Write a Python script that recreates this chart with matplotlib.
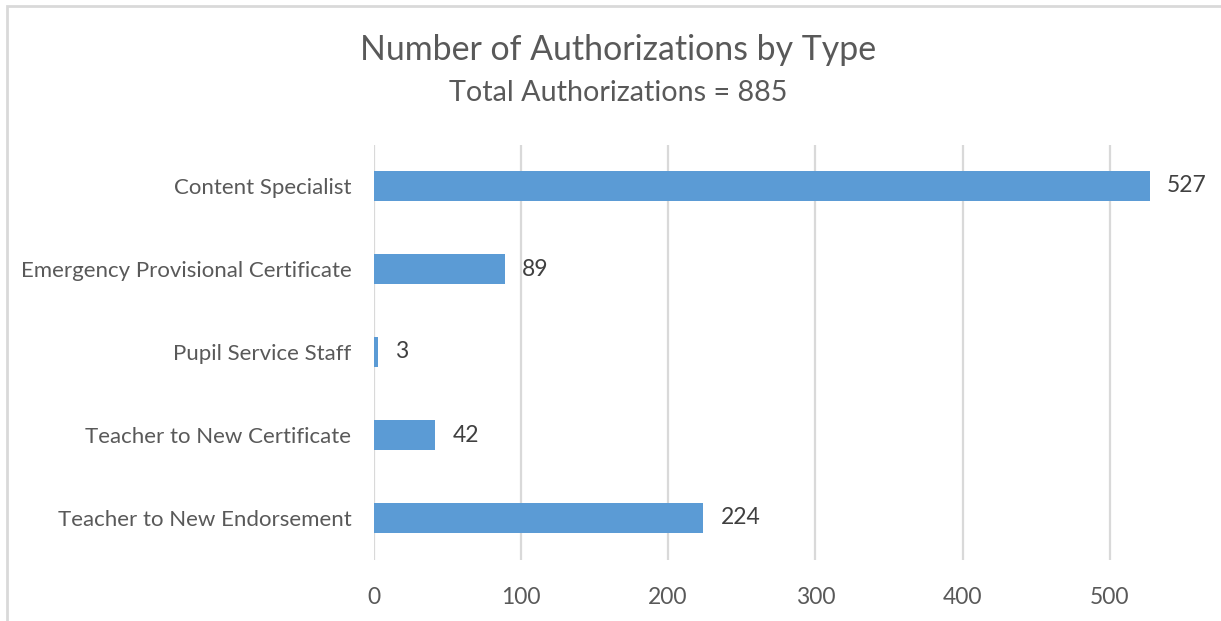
import matplotlib.pyplot as plt
from matplotlib.patches import Rectangle

# Authorizations by type (top to bottom as listed)
categories = [
    "Content Specialist",
    "Emergency Provisional Certificate",
    "Pupil Service Staff",
    "Teacher to New Certificate",
    "Teacher to New Endorsement",
]
counts = [527, 89, 3, 42, 224]
x_ticks = [0, 100, 200, 300, 400, 500]
total = 885

plt.rcParams['font.family'] = ['Lato', 'DejaVu Sans']

W, H = 1221, 621
fig = plt.figure(figsize=(W / 100, H / 100), dpi=100)

# plot area in pixel terms
left, right = 373.5, 1210
top, bottom = 144.5, 559.5
ax = fig.add_axes([left / W, 1 - bottom / H, (right - left) / W, (bottom - top) / H])

xmax = (right - left) / 1.473
ypos = list(range(len(categories)))
ax.barh(ypos, counts, height=0.35, color='#5B9BD5', zorder=3)
for y, v in zip(ypos, counts):
    ax.text(v + 11.5, y, str(v), va='center', ha='left', fontsize=16.5, color='#404040')

ax.set_xlim(0, xmax)
ax.set_ylim(len(categories) - 0.5, -0.5)
ax.set_yticks(ypos)
ax.set_yticklabels(categories, fontsize=16, color='#595959')
ax.set_xticks(x_ticks)
ax.set_xticklabels([str(t) for t in x_ticks], fontsize=16.5, color='#595959')
ax.tick_params(axis='both', length=0)
ax.tick_params(axis='y', pad=16)
ax.tick_params(axis='x', pad=20)
ax.grid(axis='x', color='#D9D9D9', linewidth=1.6, zorder=0)
for s in ax.spines.values():
    s.set_visible(False)

fig.text(618 / W, 1 - 50 / H, "Number of Authorizations by Type", ha='center', va='center',
         fontsize=24.4, color='#595959')
fig.text(618 / W, 1 - 93 / H, f"Total Authorizations = {total}", ha='center', va='center',
         fontsize=20.7, color='#595959')

# chart frame (left and top edges visible)
fig.add_artist(Rectangle((7 / W, -0.1), 1.2, (1 - 6 / H) + 0.1, transform=fig.transFigure,
                         fill=False, edgecolor='#D9D9D9', linewidth=2))

fig.savefig('out.png', dpi=100, facecolor='white')
